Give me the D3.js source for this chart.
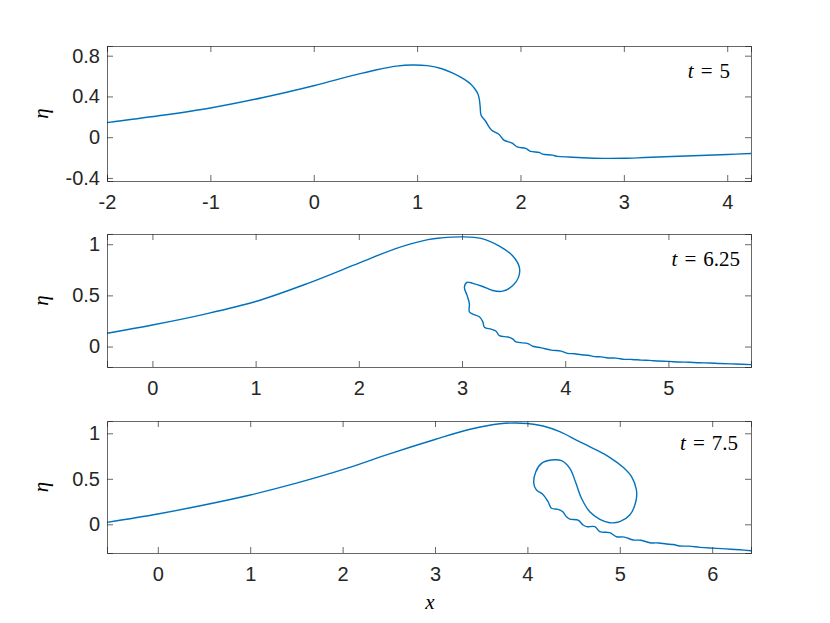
<!DOCTYPE html>
<html><head><meta charset="utf-8">
<script src="https://cdn.jsdelivr.net/npm/d3@7"></script>
<style>body{margin:0;background:#fff}svg{display:block}</style>
</head><body>
<script>
// ---- data ----
const xTicks1 = [-2,-1,0,1,2,3,4];
const yTicks1 = [-0.4,0,0.4,0.8];
const xTicks2 = [0,1,2,3,4,5];
const yTicks2 = [0,0.5,1];
const xTicks3 = [0,1,2,3,4,5,6];
const yTicks3 = [0,0.5,1];
const times = ["5","6.25","7.5"];

const x1 = [-2.0,-1.5,-1.0,-0.5,0,0.38,0.6,0.8,0.95,1.1,1.24,1.34,1.434,1.52,1.563,1.59,1.602,1.61,1.619,1.661,1.719,1.791,1.84,1.92,1.969,2.05,2.098,2.18,2.212,2.309,2.358,2.472,2.6,2.8,3.0,3.2,3.6,4.0,4.23];
const y1 = [0.143,0.21,0.287,0.387,0.505,0.607,0.66,0.697,0.709,0.702,0.672,0.632,0.582,0.52,0.468,0.42,0.371,0.30,0.215,0.159,0.071,0.029,-0.029,-0.059,-0.095,-0.11,-0.14,-0.149,-0.166,-0.176,-0.188,-0.195,-0.202,-0.208,-0.207,-0.200,-0.185,-0.17,-0.16];

const x2 = [-0.44,0,0.5,1.0,1.5,2.0,2.35,2.67,2.8,3.007,3.184,3.362,3.492,3.556,3.547,3.492,3.395,3.298,3.201,3.104,3.049,3.023,3.049,3.071,3.071,3.104,3.168,3.201,3.217,3.282,3.33,3.362,3.443,3.49,3.524,3.638,3.686,3.767,3.864,3.961,4.026,4.09,4.155,4.22,4.285,4.35,4.414,4.49,4.576,4.65,4.738,4.82,4.9,5.0,5.1,5.2,5.3,5.4,5.5,5.65,5.8];
const y2 = [0.13,0.211,0.315,0.44,0.615,0.815,0.955,1.045,1.062,1.072,1.057,0.981,0.885,0.772,0.676,0.596,0.541,0.548,0.587,0.618,0.628,0.580,0.50,0.42,0.34,0.317,0.291,0.243,0.189,0.170,0.150,0.106,0.093,0.075,0.045,0.029,0.003,-0.013,-0.035,-0.045,-0.067,-0.070,-0.080,-0.085,-0.099,-0.101,-0.112,-0.113,-0.125,-0.126,-0.133,-0.135,-0.142,-0.145,-0.151,-0.154,-0.159,-0.161,-0.166,-0.171,-0.177];

const x3 = [-0.55,0,0.5,1.0,1.5,2.0,2.5,3.0,3.38,3.70,4.0,4.17,4.35,4.53,4.71,4.89,5.036,5.127,5.18,5.173,5.108,5.0,4.892,4.784,4.675,4.585,4.52,4.459,4.369,4.261,4.153,4.091,4.069,4.098,4.163,4.224,4.261,4.332,4.38,4.423,4.459,4.549,4.603,4.64,4.73,4.784,4.892,4.964,5.05,5.144,5.23,5.325,5.42,5.505,5.58,5.649,5.75,5.866,6.0,6.15,6.3,6.42];
const y3 = [0.022,0.114,0.212,0.322,0.452,0.600,0.772,0.932,1.044,1.105,1.108,1.080,1.018,0.926,0.835,0.736,0.626,0.523,0.377,0.248,0.102,0.029,0.018,0.055,0.138,0.286,0.468,0.615,0.699,0.707,0.670,0.578,0.451,0.377,0.333,0.248,0.176,0.165,0.140,0.084,0.058,0.047,-0.008,-0.026,-0.026,-0.081,-0.092,-0.136,-0.140,-0.172,-0.175,-0.202,-0.205,-0.216,-0.222,-0.238,-0.240,-0.253,-0.262,-0.270,-0.280,-0.290];

// ---- layout ----
const W = 830, H = 623, L = 107, R = 751;
const panels = [
  {top:46, bottom:181, xd:[-2,4.23], yd:[-0.43,0.895], xt:xTicks1, yt:yTicks1, xs:x1, ys:y1, t:times[0], tx:730, ty:78},
  {top:234, bottom:367, xd:[-0.44,5.8], yd:[-0.2,1.1], xt:xTicks2, yt:yTicks2, xs:x2, ys:y2, t:times[1], tx:740, ty:266},
  {top:421, bottom:553, xd:[-0.55,6.42], yd:[-0.315,1.135], xt:xTicks3, yt:yTicks3, xs:x3, ys:y3, t:times[2], tx:738, ty:450}
];

const svg = d3.select("body").append("svg").attr("width",W).attr("height",H);
const axisColor = "#262626";
const tickFont = "'Liberation Sans', Arial, Helvetica, sans-serif";
const serif = "'Liberation Serif','DejaVu Serif',serif";

panels.forEach(p => {
  const x = d3.scaleLinear().domain(p.xd).range([L,R]);
  const y = d3.scaleLinear().domain(p.yd).range([p.bottom,p.top]);
  const g = svg.append("g");

  const pts = p.xs.map((v,i)=>[v,p.ys[i]]);
  g.append("path").datum(pts)
    .attr("d", d3.line().x(d=>x(d[0])).y(d=>y(d[1])).curve(d3.curveCatmullRom.alpha(0.5)))
    .attr("fill","none").attr("stroke","#0072BD").attr("stroke-width",1.4);

  const fmt = d => String(d);
  const bottom = g.append("g").attr("transform",`translate(0,${p.bottom})`)
    .call(d3.axisBottom(x).tickValues(p.xt).tickSize(-6).tickPadding(14).tickFormat(fmt));
  const top = g.append("g").attr("transform",`translate(0,${p.top})`)
    .call(d3.axisTop(x).tickValues(p.xt).tickSize(-6).tickFormat(""));
  const left = g.append("g").attr("transform",`translate(${L},0)`)
    .call(d3.axisLeft(y).tickValues(p.yt).tickSize(-6).tickPadding(7).tickFormat(fmt));
  const right = g.append("g").attr("transform",`translate(${R},0)`)
    .call(d3.axisRight(y).tickValues(p.yt).tickSize(-6).tickFormat(""));
  [bottom,top,left,right].forEach(a=>{
    a.selectAll(".domain").attr("stroke",axisColor).attr("stroke-width",0.7);
    a.selectAll(".tick line").attr("stroke",axisColor).attr("stroke-width",0.7);
    a.selectAll("text").attr("fill",axisColor).style("font-family",tickFont).style("font-size","20px");
  });

  svg.append("text").attr("transform",`translate(48,${(p.top+p.bottom)/2}) rotate(-90)`)
    .attr("text-anchor","middle").style("font-family",serif).style("font-style","italic")
    .style("font-size","21px").attr("fill","#000").text("η");

  const tl = svg.append("text").attr("x",p.tx).attr("y",p.ty).attr("text-anchor","end")
    .style("font-family",serif).style("font-size","21px").attr("fill","#000");
  tl.append("tspan").style("font-style","italic").text("t");
  tl.append("tspan").attr("dx",7).text("=");
  tl.append("tspan").attr("dx",7).text(p.t);
});

svg.append("text").attr("x",430).attr("y",609).attr("text-anchor","middle")
  .style("font-family",serif).style("font-style","italic").style("font-size","21px").text("x");
</script>
</body></html>
